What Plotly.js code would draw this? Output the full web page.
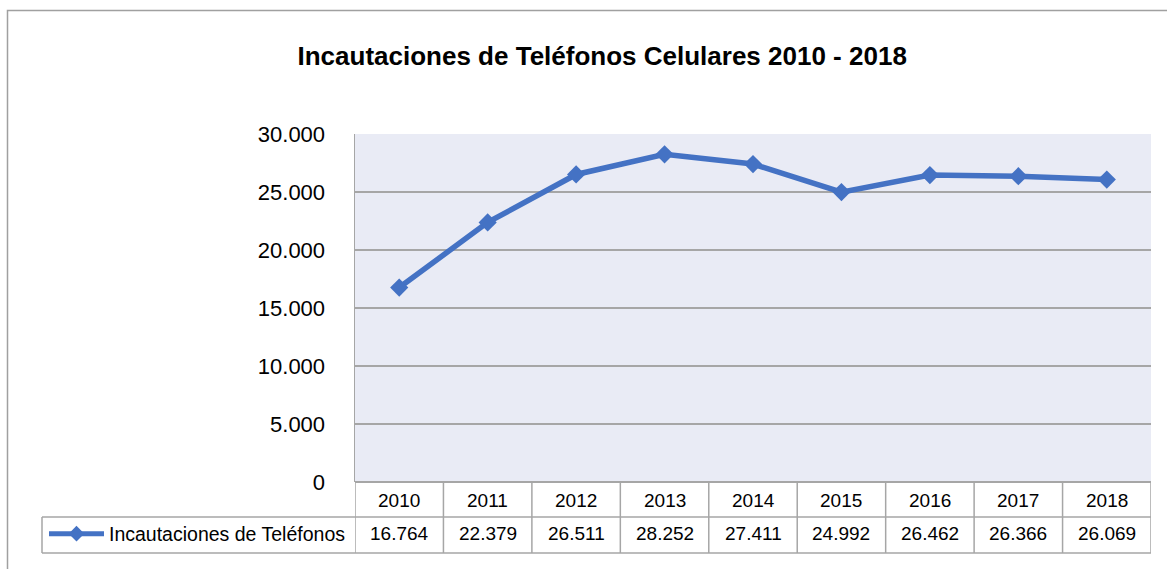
<!DOCTYPE html>
<html>
<head>
<meta charset="utf-8">
<script src="https://cdn.plot.ly/plotly-3.0.1.min.js"></script>
<style>
  html, body { margin: 0; padding: 0; background: #ffffff; }
  #chart { width: 1167px; height: 569px; }
</style>
</head>
<body>
<div id="chart"></div>
<script>
// ---- data ----
const years = ["2010", "2011", "2012", "2013", "2014", "2015", "2016", "2017", "2018"];
const seizures = [16764, 22379, 26511, 28252, 27411, 24992, 26462, 26366, 26069];
const seriesName = "Incautaciones de Teléfonos";
const chartTitle = "Incautaciones de Teléfonos Celulares 2010 - 2018";
const yTicks = [0, 5000, 10000, 15000, 20000, 25000, 30000];

// ---- layout constants ----
const W = 1167, H = 569;
const M = { l: 355, r: 16, t: 134, b: 87 };
const plotW = W - M.l - M.r, plotH = H - M.t - M.b;
const px2x = p => (p - M.l) / plotW;
const px2y = p => (H - M.b - p) / plotH;

const FONT = "'Liberation Sans', Arial, sans-serif";
const BLUE = "#4472C4";
const GRID = "#A6A6A6";
const BORDER = "#A6A6A6";

function thousands(v) {
  return String(v).replace(/\B(?=(\d{3})+(?!\d))/g, ".");
}

const rowHeaderBottom = px2y(517);
const rowValueBottom = px2y(553);
const rowHeaderMid = px2y(500);
const rowValueMid = px2y(533);

const shapes = [];
// outer chart border
shapes.push({ type: "rect", xref: "paper", yref: "paper",
  x0: px2x(7.5), x1: px2x(1200), y0: px2y(600), y1: px2y(10.5),
  line: { color: "#A0A0A0", width: 1.5 }, layer: "below" });
// vertical table lines (category boundaries)
for (let i = 0; i <= years.length; i++) {
  shapes.push({ type: "line", xref: "x", yref: "paper",
    x0: i - 0.5, x1: i - 0.5, y0: 0, y1: rowValueBottom,
    line: { color: BORDER, width: 1.5 } });
}
// horizontal table lines
[rowHeaderBottom, rowValueBottom].forEach(yy => {
  shapes.push({ type: "line", xref: "paper", yref: "paper",
    x0: px2x(42), x1: 1, y0: yy, y1: yy, line: { color: BORDER, width: 1.5 } });
});
// legend cell left edge
shapes.push({ type: "line", xref: "paper", yref: "paper",
  x0: px2x(42), x1: px2x(42), y0: rowHeaderBottom, y1: rowValueBottom,
  line: { color: BORDER, width: 1.5 } });

const annotations = [];
years.forEach((yr, i) => {
  annotations.push({ x: i, xref: "x", y: rowHeaderMid, yref: "paper",
    text: yr, showarrow: false, xanchor: "center", yanchor: "middle",
    font: { family: FONT, size: 19, color: "#000" } });
  annotations.push({ x: i, xref: "x", y: rowValueMid, yref: "paper",
    text: thousands(seizures[i]), showarrow: false, xanchor: "center", yanchor: "middle",
    font: { family: FONT, size: 19, color: "#000" } });
});

const trace = {
  x: years, y: seizures, name: seriesName, type: "scatter", mode: "lines+markers",
  line: { color: BLUE, width: 5.5 },
  marker: { symbol: "diamond", size: 14, color: BLUE },
  cliponaxis: false
};

const layout = {
  width: W, height: H,
  margin: M,
  paper_bgcolor: "#ffffff",
  plot_bgcolor: "#E9EBF5",
  separators: ",.",
  font: { family: FONT, color: "#000" },
  title: { text: "<b>" + chartTitle + "</b>", x: 0.516, xanchor: "center",
    y: 1 - 56 / H, yanchor: "middle", font: { family: FONT, size: 26, color: "#000" } },
  xaxis: { type: "category", range: [-0.5, years.length - 0.5], showticklabels: false,
    showgrid: false, zeroline: false, showline: false, ticks: "", fixedrange: true },
  yaxis: { range: [0, 30000], tickvals: yTicks, tickformat: ",d",
    tickfont: { family: FONT, size: 22, color: "#000" },
    showgrid: true, gridcolor: GRID, gridwidth: 1.5, zeroline: true, zerolinecolor: GRID, zerolinewidth: 1.5,
    showline: true, linecolor: BORDER, linewidth: 1.5, ticks: "", ticklabelstandoff: 24 },
  showlegend: true,
  legend: { x: px2x(44), xanchor: "left", y: px2y(534), yanchor: "middle",
    bgcolor: "rgba(0,0,0,0)", borderwidth: 0, itemwidth: 55,
    font: { family: FONT, size: 19.5, color: "#000" }, itemsizing: "constant" },
  shapes: shapes,
  annotations: annotations
};

Plotly.newPlot("chart", [trace], layout, { displayModeBar: false, staticPlot: true });
</script>
</body>
</html>
